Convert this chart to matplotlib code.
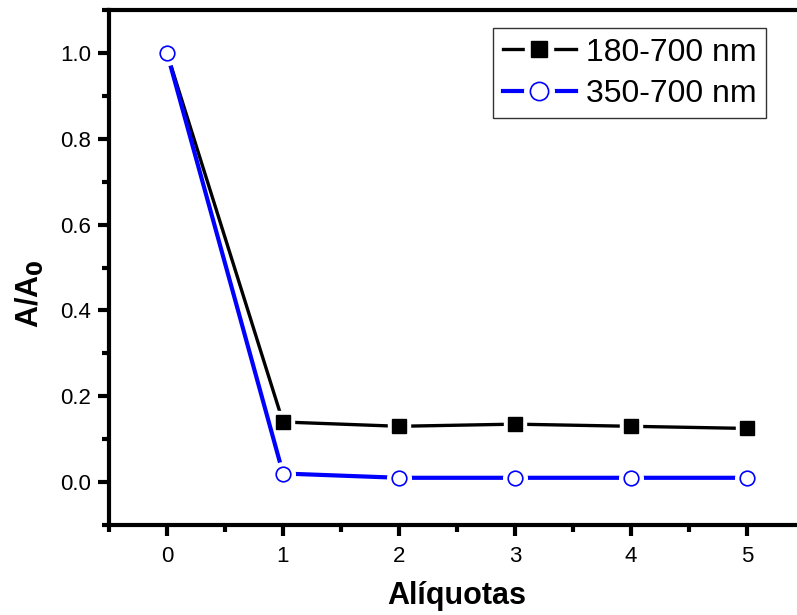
import matplotlib
matplotlib.use("Agg")
import matplotlib.pyplot as plt
from matplotlib.ticker import MultipleLocator

plt.rcParams['font.family'] = ['Liberation Sans', 'DejaVu Sans']

aliquotas = [0, 1, 2, 3, 4, 5]
a_180_700 = [1.0, 0.14, 0.13, 0.135, 0.13, 0.125]
a_350_700 = [1.0, 0.02, 0.01, 0.01, 0.01, 0.01]
labels = ['180-700 nm', '350-700 nm']

fig = plt.figure(figsize=(7.97, 6.15), dpi=100)
ax = fig.add_axes([109 / 797, 90 / 615, 696 / 797, 515 / 615])

# serie 180-700: linha, halo branco (corte da linha perto do marcador), marcador
l1, = ax.plot(aliquotas, a_180_700, color='black', lw=2.4)
h1, = ax.plot(aliquotas, a_180_700, ls='none', marker='s', ms=16, mfc='white', mec='white')
m1, = ax.plot(aliquotas, a_180_700, ls='none', marker='s', ms=9.5, mfc='black', mec='black')

l2, = ax.plot(aliquotas, a_350_700, color='blue', lw=3)
h2, = ax.plot(aliquotas, a_350_700, ls='none', marker='o', ms=17, mfc='white', mec='white')
m2, = ax.plot(aliquotas, a_350_700, ls='none', marker='o', ms=10.5, mfc='white',
              mec='blue', mew=1.2)

ax.set_xlim(-0.5, 5.5)
ax.set_ylim(-0.1, 1.1)
ax.xaxis.set_major_locator(MultipleLocator(1))
ax.xaxis.set_minor_locator(MultipleLocator(0.5))
ax.yaxis.set_minor_locator(MultipleLocator(0.1))
ax.set_yticks([0.0, 0.2, 0.4, 0.6, 0.8, 1.0])
ax.set_yticklabels(['0.0', '0.2', '0.4', '0.6', '0.8', '1.0'])

for s in ['left', 'bottom', 'top', 'right']:
    ax.spines[s].set_linewidth(3)
ax.tick_params(which='major', direction='out', length=8, width=3, labelsize=16)
ax.tick_params(axis='y', which='major', pad=5)
ax.tick_params(axis='x', which='major', pad=7)
ax.tick_params(which='minor', direction='out', length=5, width=3)

ax.set_xlabel('Alíquotas', fontsize=22, fontweight='bold', labelpad=10)
ax.set_ylabel('A/A$_{\\mathbf{0}}$', fontsize=22, fontweight='bold')
ax.yaxis.set_label_coords(-0.09, 0.45)

leg = ax.legend([(l1, h1, m1), (l2, h2, m2)], labels, loc='upper right',
                bbox_to_anchor=(0.944, 0.965), fontsize=23, markerscale=1.25,
                frameon=True, fancybox=False, handlelength=2.3, handletextpad=0.3,
                borderpad=0.3, labelspacing=0.35, borderaxespad=0)
leg.get_frame().set_edgecolor('black')
leg.get_frame().set_linewidth(1)

fig.savefig('out.png', dpi=100)
